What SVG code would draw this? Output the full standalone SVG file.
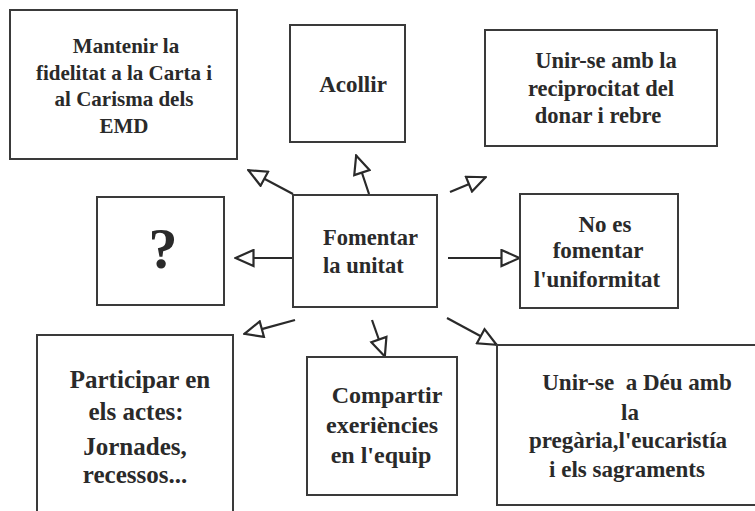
<svg xmlns="http://www.w3.org/2000/svg" width="755" height="511" viewBox="0 0 755 511">
<defs>
<style>
.box{fill:#fff;stroke:#3a3a3a;stroke-width:2}
.t{font-family:"Liberation Serif","Times New Roman",serif;font-weight:bold;fill:#2a2a2a;text-anchor:middle}
.c{stroke:#2a2a2a;stroke-width:2.2;fill:none;marker-end:url(#ah)}
</style>
<marker id="ah" viewBox="0 0 21 19" refX="20" refY="9.5" markerWidth="21" markerHeight="19" markerUnits="userSpaceOnUse" orient="auto">
<path d="M1.5,1.5 L19.5,9.5 L1.5,17.5 Z" fill="#fff" stroke="#2a2a2a" stroke-width="2.2"/>
</marker>
</defs>
<rect width="755" height="511" fill="#fff"/>
<g id="connectors">
<line class="c" x1="293" y1="194" x2="248" y2="170"/>
<line class="c" x1="369" y1="194" x2="356" y2="155"/>
<line class="c" x1="450" y1="192" x2="486" y2="177"/>
<line class="c" x1="294" y1="258" x2="235" y2="258"/>
<line class="c" x1="448" y1="258" x2="520" y2="258"/>
<line class="c" x1="295" y1="320" x2="244" y2="334"/>
<line class="c" x1="372" y1="320" x2="385" y2="357"/>
<line class="c" x1="447" y1="318" x2="497" y2="345"/>
</g>
<g id="n-mantenir">
<rect class="box" x="10" y="10" width="227" height="149"/>
<text class="t" font-size="21"><tspan x="126" y="53">Mantenir la</tspan><tspan x="124" y="80">fidelitat a la Carta i</tspan><tspan x="124" y="106">al Carisma dels</tspan><tspan x="124" y="133">EMD</tspan></text>
</g>
<g id="n-acollir">
<rect class="box" x="290" y="25" width="115" height="117"/>
<text class="t" font-size="23" x="353" y="92">Acollir</text>
</g>
<g id="n-unir-reciprocitat">
<rect class="box" x="485" y="30" width="232" height="116"/>
<text class="t" font-size="22.5"><tspan x="606" y="68">Unir-se amb la</tspan><tspan x="601" y="96">reciprocitat del</tspan><tspan x="598" y="123">donar i rebre</tspan></text>
</g>
<g id="n-pregunta">
<rect class="box" x="97" y="197" width="127" height="108"/>
<text class="t" font-size="58" x="163" y="268">?</text>
</g>
<g id="n-fomentar">
<rect class="box" x="293" y="195" width="144" height="112"/>
<text class="t" font-size="22.5" style="text-anchor:start"><tspan x="323" y="245">Fomentar</tspan><tspan x="323" y="273">la unitat</tspan></text>
</g>
<g id="n-uniformitat">
<rect class="box" x="520" y="194" width="158" height="114"/>
<text class="t" font-size="23"><tspan x="605" y="232">No es</tspan><tspan x="598" y="258">fomentar</tspan><tspan x="597" y="287">l'uniformitat</tspan></text>
</g>
<g id="n-participar">
<path class="box" d="M37,515 V335 H233 V515"/>
<text class="t" font-size="25"><tspan x="140" y="388">Participar en</tspan><tspan x="136" y="420">els actes:</tspan><tspan x="135" y="455">Jornades,</tspan><tspan x="135" y="483">recessos...</tspan></text>
</g>
<g id="n-compartir">
<rect class="box" x="307" y="357" width="150" height="138"/>
<text class="t" font-size="24"><tspan x="387" y="403">Compartir</tspan><tspan x="382" y="433">exeriències</tspan><tspan x="381" y="463">en l'equip</tspan></text>
</g>
<g id="n-unir-deu">
<path class="box" d="M760,345 H497 V505 H760"/>
<text class="t" font-size="23" xml:space="preserve"><tspan x="637" y="390">Unir-se  a Déu amb</tspan><tspan x="630" y="420">la</tspan><tspan x="628" y="448">pregària,l'eucaristía</tspan><tspan x="627" y="477">i els sagraments</tspan></text>
</g>
</svg>
